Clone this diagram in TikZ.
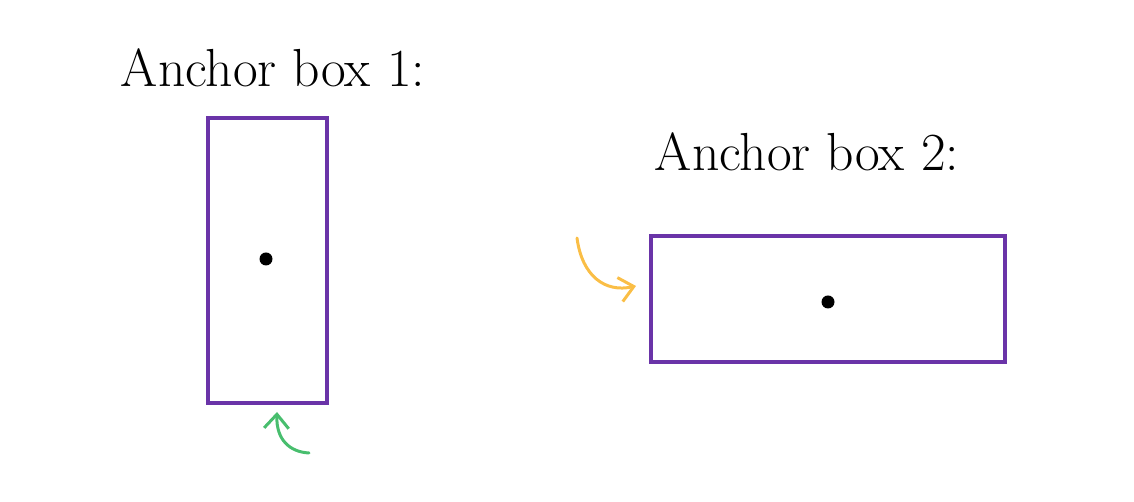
\documentclass[tikz,border=0pt]{standalone}
\usetikzlibrary{arrows.meta}
\definecolor{boxpurple}{RGB}{106,52,168}
\definecolor{handgreen}{RGB}{72,190,110}
\definecolor{handorange}{RGB}{250,190,70}
\tikzset{
  anchorbox/.style={draw=boxpurple, line width=2.4pt, inner sep=0pt},
  centre/.style={circle, fill=black, inner sep=0pt, minimum size=0.26cm},
  boxlabel/.style={font=\fontsize{30.5pt}{36pt}\selectfont, inner sep=0pt, anchor=base},
  hand/.style={line width=1.7pt, line cap=round, -{Straight Barb[length=8pt,width=14pt,line width=1.7pt]}}
}
\begin{document}
\begin{tikzpicture}[x=0.02cm, y=-0.02cm]
    \useasboundingbox (0,0) rectangle (1134,502);
    % anchor box 1 (tall)
    \node[anchorbox, minimum width=2.38cm, minimum height=5.7cm](box1)at(267.5,260.5){};
    \node[centre](dot1)at(266,259){};
    \node[boxlabel](lab1)at(273,87){Anchor box 1:};
    % anchor box 2 (wide)
    \node[anchorbox, minimum width=7.08cm, minimum height=2.52cm](box2)at(828,299){};
    \node[centre](dot2)at(828,302){};
    \node[boxlabel](lab2)at(807,171){Anchor box 2:};
    % hand drawn arrows
    \coordinate(gtail)at(309,453);
    \coordinate(gtip)at(277,412);
    \coordinate(otail)at(577,238);
    \coordinate(otip)at(636,286);
    \path[draw, hand, handgreen](gtail) .. controls (290,452) and (276,440) .. (gtip);
    \path[draw, hand, handorange](otail) .. controls (582,276) and (605,293) .. (otip);
\end{tikzpicture}
\end{document}
